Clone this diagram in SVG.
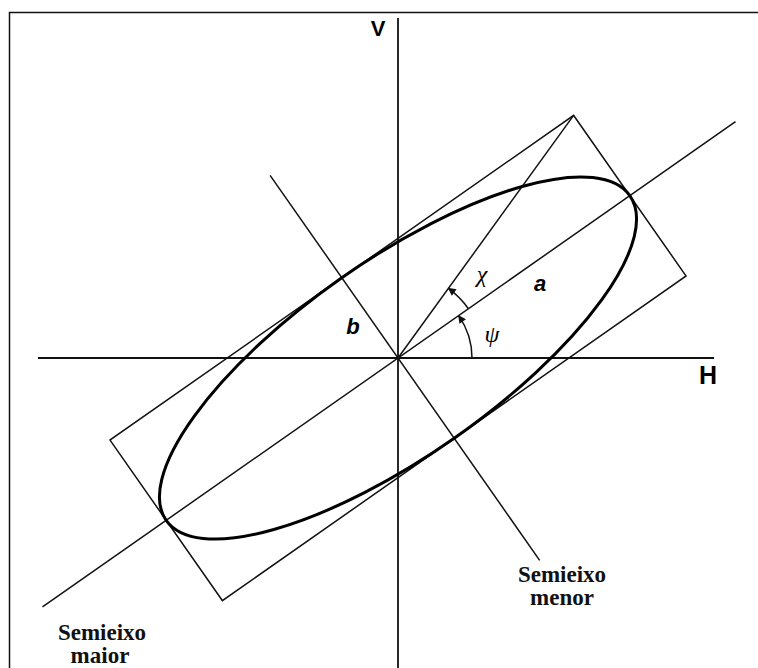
<svg xmlns="http://www.w3.org/2000/svg" width="758" height="668" viewBox="0 0 758 668">
<defs>
<style>
.ln{stroke:#111;stroke-width:1.5;fill:none}
.ax{stroke:#111;stroke-width:1.8;fill:none}
.el{stroke:#000;stroke-width:3;fill:none}
.lbl{font-family:"Liberation Sans",Arial,sans-serif;font-weight:bold;fill:#000}
.grk{font-family:"Liberation Serif","Times New Roman",serif;font-style:italic;fill:#000;font-size:24px}
.cap{font-family:"Liberation Serif","Times New Roman",serif;font-weight:bold;fill:#111;font-size:23px;text-anchor:middle}
</style>
<marker id="ah" viewBox="0 0 10 10" refX="9" refY="5" markerWidth="9" markerHeight="8" markerUnits="userSpaceOnUse" orient="auto">
<path d="M0,0 L10,5 L0,10 Z" fill="#111"/>
</marker>
</defs>
<rect x="0" y="0" width="758" height="668" fill="#fff"/>
<path id="frame" class="ln" d="M9.5,668 V12.5 H758"/>
<g id="axes">
<line class="ax" x1="398" y1="18" x2="398" y2="668"/>
<line class="ax" x1="38" y1="358" x2="714" y2="358"/>
</g>
<g id="ellipse-figure" transform="translate(398,358) rotate(-35)">
<rect class="ln" x="-283" y="-98" width="566" height="196"/>
<line class="ln" x1="-434" y1="0" x2="412" y2="0"/>
<line class="ln" x1="0" y1="-223" x2="0" y2="247"/>
<line class="ln" x1="0" y1="0" x2="283" y2="-98"/>
<ellipse class="el" cx="0" cy="0" rx="283" ry="98"/>
</g>
<g id="angles">
<path class="ln" d="M472,358 A74,74 0 0 0 458.6,315.6" marker-end="url(#ah)"/>
<path class="ln" d="M468.4,308.7 A86,86 0 0 0 448.4,288.3" marker-end="url(#ah)"/>
</g>
<g id="labels">
<text class="lbl" x="378" y="36" font-size="22" text-anchor="middle">V</text>
<text class="lbl" x="708" y="384" font-size="25" text-anchor="middle">H</text>
<text class="lbl" x="540" y="291" font-size="22" font-style="italic" text-anchor="middle">a</text>
<text class="lbl" x="353" y="334" font-size="22" font-style="italic" text-anchor="middle">b</text>
<text class="grk" x="482" y="282" text-anchor="middle">χ</text>
<text class="grk" x="492" y="342" text-anchor="middle">ψ</text>
</g>
<g id="captions">
<text class="cap" x="562" y="582">Semieixo</text>
<text class="cap" x="562" y="605">menor</text>
<text class="cap" x="102" y="640">Semieixo</text>
<text class="cap" x="100" y="663">maior</text>
</g>
</svg>
